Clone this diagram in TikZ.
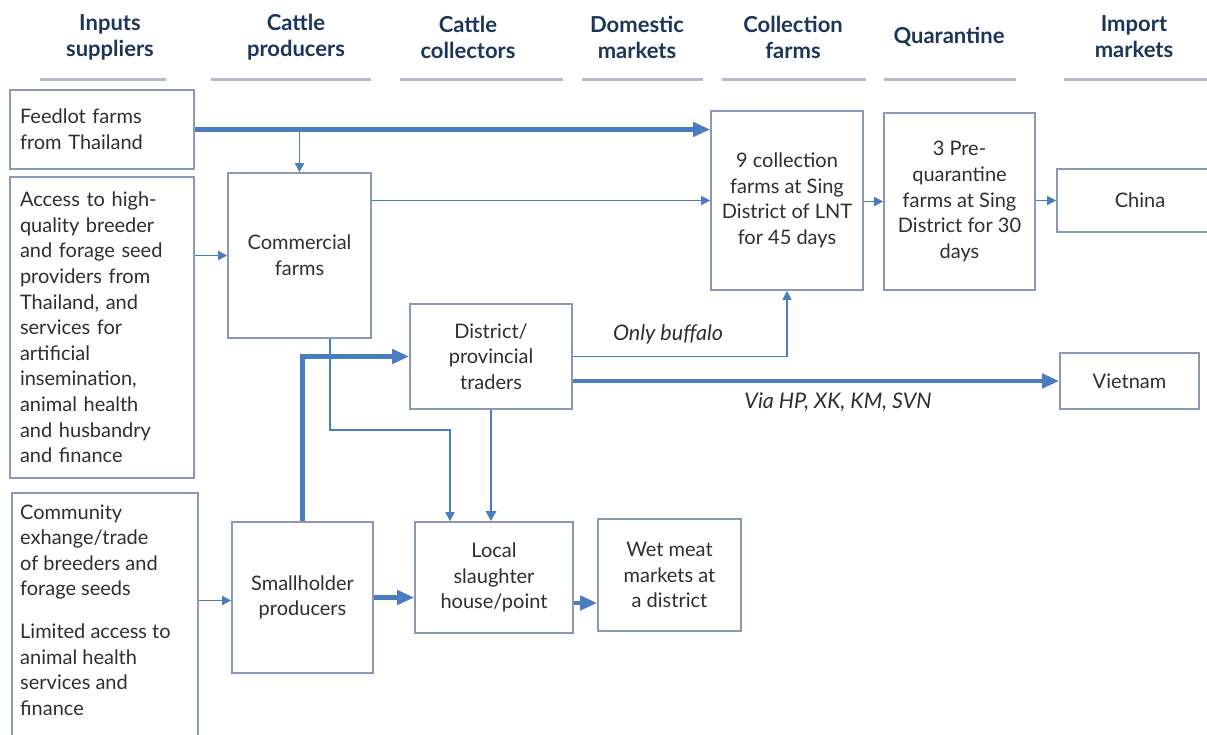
\documentclass[tikz,border=0pt]{standalone}
\usepackage{fontspec}
\setmainfont{Lato}
\usetikzlibrary{arrows.meta,calc}
\definecolor{boxc}{HTML}{8C98B6}
\definecolor{arrc}{HTML}{4A7DC0}
\definecolor{headc}{HTML}{1B365A}
\definecolor{linec}{HTML}{B3BBC9}
\definecolor{txtc}{HTML}{2E2E2E}
\tikzset{
  x=1pt, y=-1pt,
  box/.style={draw=boxc, line width=1.6pt, inner sep=0pt, align=center, text=txtc,
    font=\fontsize{20}{25.6}\selectfont},
  lbox/.style={box, align=left, inner xsep=10pt, text width=164pt},
  head/.style={align=center, text=headc, font=\bfseries\fontsize{22}{26}\selectfont},
  hline/.style={draw=linec, line width=3pt},
  thinarr/.style={draw=arrc, line width=1.6pt, -{Triangle[length=9pt,width=9pt]}},
  medarr/.style={draw=arrc, line width=2.2pt, -{Triangle[length=10pt,width=10pt]}},
  thickarr/.style={draw=arrc, line width=4.5pt, -{Triangle[length=17pt,width=14pt]}},
  lab/.style={text=txtc, font=\itshape\fontsize{21.5}{24}\selectfont},
}
\begin{document}
\begin{tikzpicture}
\useasboundingbox (0,0) rectangle (1207,734);
% headers
\node[head] (h1) at (110,37) {Inputs\\suppliers};
\node[head] (h2) at (296,37) {Cattle\\producers};
\node[head] (h3) at (468,37) {Cattle\\collectors};
\node[head] (h4) at (637,37) {Domestic\\markets};
\node[head] (h5) at (793,37) {Collection\\farms};
\node[head] (h6) at (949,37) {Quarantine};
\node[head] (h7) at (1134,37) {Import\\markets};
\coordinate (u1a) at (40,79);   \coordinate (u1b) at (166,79);
\coordinate (u2a) at (211,79);  \coordinate (u2b) at (371,79);
\coordinate (u3a) at (400,79);  \coordinate (u3b) at (563,79);
\coordinate (u4a) at (582,79);  \coordinate (u4b) at (703,79);
\coordinate (u5a) at (722,79);  \coordinate (u5b) at (866,79);
\coordinate (u6a) at (884,79);  \coordinate (u6b) at (1016,79);
\coordinate (u7a) at (1064,79); \coordinate (u7b) at (1207,79);
\draw[hline] (u1a) -- (u1b);
\draw[hline] (u2a) -- (u2b);
\draw[hline] (u3a) -- (u3b);
\draw[hline] (u4a) -- (u4b);
\draw[hline] (u5a) -- (u5b);
\draw[hline] (u6a) -- (u6b);
\draw[hline] (u7a) -- (u7b);
% boxes
\node[lbox, minimum height=79pt] (feed) at (102,129.5) {Feedlot farms\\from Thailand};
\node[lbox, minimum height=301pt] (access) at (102,327.5) {Access to high-\\quality breeder\\and forage seed\\providers from\\Thailand, and\\services for\\artificial\\insemination,\\animal health\\and husbandry\\and finance};
\node[box, minimum width=186pt, minimum height=294pt] (commbox) at (105,640) {};
\node[anchor=west, align=left, text=txtc, font=\fontsize{20}{25.6}\selectfont, inner sep=0pt] (commtext) at (20,610)
  {Community\\exhange/trade\\of breeders and\\forage seeds\\[17pt]Limited access to\\animal health\\services and\\finance};
\node[box, minimum width=143pt, minimum height=165pt] (comm) at (299.5,255.5) {Commercial\\farms};
\node[box, minimum width=141pt, minimum height=151pt] (small) at (302.5,597.5) {Smallholder\\producers};
\node[box, minimum width=162pt, minimum height=105pt] (dist) at (491,356.5) {District/\\provincial\\traders};
\node[box, minimum width=158pt, minimum height=111pt] (slaugh) at (494,577.5) {Local\\slaughter\\house/point};
\node[box, minimum width=143pt, minimum height=112pt] (wet) at (669.5,575) {Wet meat\\markets at\\a district};
\node[box, minimum width=152pt, minimum height=179pt] (coll) at (787,200.5) {9 collection\\farms at Sing\\District of LNT\\for 45 days};
\node[box, minimum width=151pt, minimum height=177pt] (preq) at (959.5,201.5) {3 Pre-\\quarantine\\farms at Sing\\District for 30\\days};
\node[box, minimum width=166pt, minimum height=63pt] (china) at (1140,200.5) {China};
\node[box, minimum width=139pt, minimum height=56pt] (viet) at (1129.5,381) {Vietnam};
% connectors
\draw[thickarr] (feed.east) -- (coll.west |- feed.east);
\draw[thinarr] (comm.north |- feed.east) -- (comm.north);
\draw[thinarr] (access.east |- comm.west) -- (comm.west);
\draw[thinarr] (comm.east |- coll.west) -- (coll.west);
\coordinate (c1) at (330,430);
\coordinate (c2) at (450,430);
\draw[thinarr] (c1 |- comm.south) -- (c1) -- (c2) -- (c2 |- slaugh.north);
\draw[thickarr] (small.north) |- (dist.west);
\draw[thinarr] (dist.east) -| (coll.south);
\draw[thickarr] (dist.east |- viet.west) -- (viet.west);
\draw[medarr] (dist.south) -- (dist.south |- slaugh.north);
\draw[thinarr] (coll.east |- preq.west) -- (preq.west);
\draw[thinarr] (preq.east |- china.west) -- (china.west);
\draw[thinarr] ([yshift=-3pt]commbox.east |- small.west) -- ([yshift=-3pt]small.west);
\draw[thickarr] (small.east) -- (slaugh.west |- small.east);
\draw[thickarr] ([yshift=-25.5pt]slaugh.east) -- ([yshift=-25.5pt]slaugh.east -| wet.west);
% labels
\node[lab] (lb1) at (668,334) {Only buffalo};
\node[lab] (lb2) at (838,402) {Via HP, XK, KM, SVN};
\end{tikzpicture}
\end{document}
